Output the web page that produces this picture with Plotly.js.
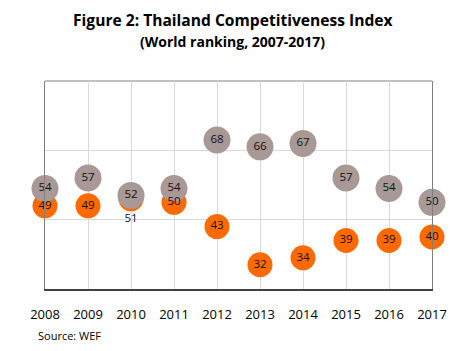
<!DOCTYPE html>
<html>
<head>
<meta charset="utf-8">
<script src="https://cdn.plot.ly/plotly-3.0.1.min.js"></script>
<style>html,body{margin:0;padding:0;background:#fff;}#chart{width:459px;height:351px;}</style>
</head>
<body>
<div id="chart"></div>
<script>
const years = [2008, 2009, 2010, 2011, 2012, 2013, 2014, 2015, 2016, 2017];
const orangeRank = [49, 49, 51, 50, 43, 32, 34, 39, 39, 40];
const greyRank = [54, 57, 52, 54, 68, 66, 67, 57, 54, 50];
const orangeLabelPos = ['middle center','middle center','bottom center','middle center','middle center','middle center','middle center','middle center','middle center','middle center'];

const FONT = 'Open Sans, Liberation Sans, sans-serif';
const labelFont = {family: FONT, size: 11.5, color: '#111'};

const traces = [
  {
    x: years, y: orangeRank, mode: 'markers', type: 'scatter',
    marker: {size: 25, color: '#FF6A00', line: {width: 0}},
    cliponaxis: false, hoverinfo: 'skip', showlegend: false
  },
  {
    x: years, y: greyRank, mode: 'markers+text', type: 'scatter',
    text: greyRank.map(String), textposition: 'middle center',
    textfont: labelFont,
    marker: {size: 27, color: '#A89896', line: {width: 0}},
    cliponaxis: false, hoverinfo: 'skip', showlegend: false
  },
  {
    x: years, y: orangeRank, mode: 'markers+text', type: 'scatter',
    text: orangeRank.map(String), textposition: orangeLabelPos,
    textfont: labelFont,
    marker: {size: 22, color: 'rgba(0,0,0,0)', line: {width: 0}},
    cliponaxis: false, hoverinfo: 'skip', showlegend: false
  }
];

const layout = {
  width: 459, height: 351,
  margin: {l: 45, r: 27, t: 81, b: 62},
  paper_bgcolor: '#fff', plot_bgcolor: '#fff',
  font: {family: FONT, color: '#000'},
  xaxis: {
    range: [2008, 2017], tickmode: 'array', tickvals: years, ticktext: years.map(String),
    showgrid: true, gridcolor: '#d9d9d9', gridwidth: 1,
    zeroline: false, showline: true, linecolor: '#404040', linewidth: 2,
    ticks: '', ticklabelstandoff: 12,
    tickfont: {family: FONT, size: 13, color: '#000'}, fixedrange: true
  },
  yaxis: {
    range: [25, 85], tick0: 25, dtick: 20, showticklabels: false,
    showgrid: true, gridcolor: '#d9d9d9', gridwidth: 1,
    zeroline: false, showline: true, mirror: true, linecolor: '#808080', linewidth: 1,
    ticks: '', fixedrange: true
  },
  shapes: [
    {type: 'line', xref: 'paper', yref: 'paper', x0: 0, x1: 1, y0: 1, y1: 1, line: {color: '#808080', width: 1}, layer: 'below'}
  ],
  annotations: [
    {text: '<b>Figure 2: Thailand Competitiveness Index</b>', xref: 'paper', yref: 'paper', x: 0.485, y: 1, yshift: 61, xanchor: 'center', yanchor: 'middle', showarrow: false, font: {family: FONT, size: 15.6, color: '#000'}},
    {text: '<b>(World ranking, 2007-2017)</b>', xref: 'paper', yref: 'paper', x: 0.485, y: 1, yshift: 40, xanchor: 'center', yanchor: 'middle', showarrow: false, font: {family: FONT, size: 14, color: '#000'}},
    {text: 'Source: WEF', xref: 'paper', yref: 'paper', x: 0, xshift: -9, y: 0, yshift: -46, xanchor: 'left', yanchor: 'middle', showarrow: false, font: {family: FONT, size: 11, color: '#000'}}
  ]
};

Plotly.newPlot('chart', traces, layout, {displayModeBar: false, staticPlot: true});
</script>
</body>
</html>
